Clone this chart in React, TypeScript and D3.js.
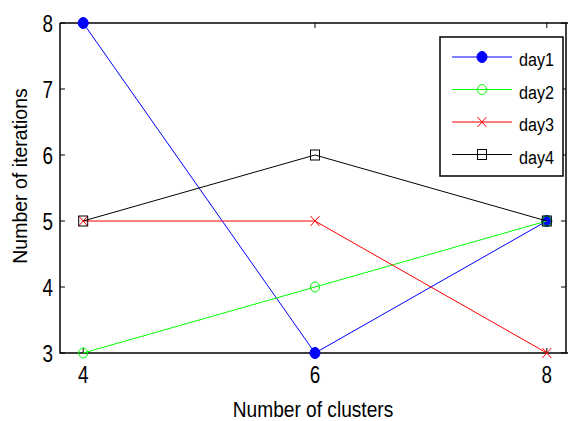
import React from "react";
import * as d3 from "d3";

const clusters = [4, 6, 8];
const day1 = [8, 3, 5];
const day2 = [3, 4, 5];
const day3 = [5, 5, 3];
const day4 = [5, 6, 5];
const seriesNames = ["day1", "day2", "day3", "day4"];
const seriesColors = ["#0000ff", "#00ff00", "#ff0000", "#000000"];
const seriesMarkers = ["dot", "circle", "x", "square"];
const xTicks = [4, 6, 8];
const yTicks = [3, 4, 5, 6, 7, 8];

const W = 568, H = 421;
const left = 60, right = 570, top = 23, bottom = 353;
const FONT = "'Liberation Sans', Arial, sans-serif";

function Marker({ type, x, y, color }: { type: string; x: number; y: number; color: string }) {
  if (type === "dot") return <ellipse cx={x} cy={y} rx={5} ry={5.5} fill={color} stroke={color} />;
  if (type === "circle") return <ellipse cx={x} cy={y} rx={4.5} ry={5} fill="none" stroke={color} strokeWidth={1} />;
  if (type === "x")
    return (
      <path d={`M${x - 4.5},${y - 5}L${x + 4.5},${y + 5}M${x - 4.5},${y + 5}L${x + 4.5},${y - 5}`} stroke={color} strokeWidth={1} fill="none" />
    );
  return <rect x={x - 4.5} y={y - 5} width={9} height={10} fill="none" stroke={color} strokeWidth={1} />;
}

function NText({ x, y, sx, size, anchor, children }: { x: number; y: number; sx: number; size: number; anchor?: string; children: any }) {
  return (
    <text transform={`translate(${x},${y}) scale(${sx},1)`} fontSize={size} textAnchor={anchor || "start"}>
      {children}
    </text>
  );
}

export default function App() {
  const x = d3.scaleLinear().domain([3.8, 8.2]).range([left, right]);
  const y = d3.scaleLinear().domain([3, 8]).range([bottom, top]);
  const data = [day1, day2, day3, day4];
  const line = d3
    .line<number>()
    .x((_, i) => x(clusters[i]))
    .y((d) => y(d));
  const tl = 5;
  const legX = 440, legY = 37, legW = 123, legH = 139;
  return (
    <svg width={W} height={H} style={{ position: "absolute", left: 0, top: 0, background: "#fff" }} fontFamily={FONT}>
      <rect x={0} y={0} width={W} height={H} fill="#fff" />
      <path d={`M${left},${top}H${right}M${left},${top}V${bottom}H${right}M${566},${top}V${bottom}`} stroke="#000" strokeWidth={1.5} fill="none" />
      {xTicks.map((t) => (
        <g key={"xt" + t}>
          <line x1={x(t)} x2={x(t)} y1={bottom} y2={bottom - tl} stroke="#000" />
          <line x1={x(t)} x2={x(t)} y1={top} y2={top + tl} stroke="#000" />
          <NText x={x(t)} y={383} sx={0.77} size={24.5} anchor="middle">{t}</NText>
        </g>
      ))}
      {yTicks.map((t) => (
        <g key={"yt" + t}>
          <line x1={left} x2={left + tl} y1={y(t)} y2={y(t)} stroke="#000" />
          <line x1={566} x2={566 - tl} y1={y(t)} y2={y(t)} stroke="#000" />
          <NText x={53} y={y(t) + 8.5} sx={0.77} size={24.5} anchor="end">{t}</NText>
        </g>
      ))}
      <NText x={313} y={417} sx={0.85} size={22.5} anchor="middle">Number of clusters</NText>
      <text transform={`translate(27,176) rotate(-90)`} textAnchor="middle" fontSize={19.5}>Number of iterations</text>
      {data.map((s, i) => (
        <g key={"s" + i}>
          <path d={line(s) || ""} fill="none" stroke={seriesColors[i]} strokeWidth={1} />
          {s.map((v, j) => (
            <Marker key={j} type={seriesMarkers[i]} x={x(clusters[j])} y={y(v)} color={seriesColors[i]} />
          ))}
        </g>
      ))}
      <rect x={legX} y={legY} width={legW} height={legH} fill="#fff" stroke="#000" strokeWidth={1.5} />
      {seriesNames.map((n, i) => {
        const ly = legY + 20 + i * 32.5;
        return (
          <g key={"l" + n}>
            <line x1={452} x2={512} y1={ly} y2={ly} stroke={seriesColors[i]} strokeWidth={1} />
            <Marker type={seriesMarkers[i]} x={482} y={ly} color={seriesColors[i]} />
            <NText x={519} y={ly + 9} sx={0.85} size={19}>{n}</NText>
          </g>
        );
      })}
    </svg>
  );
}
